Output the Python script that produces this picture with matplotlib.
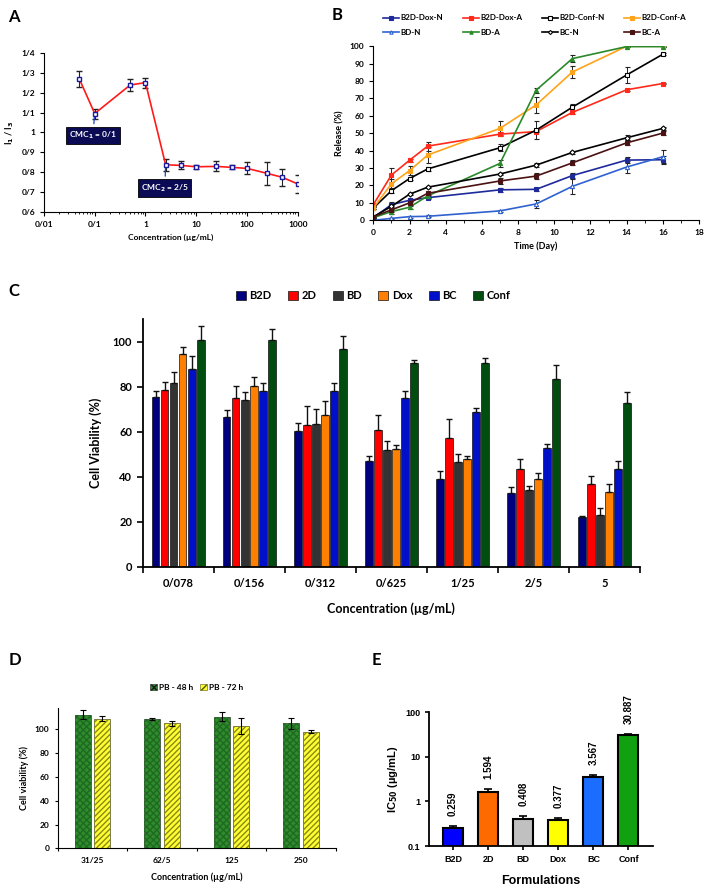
import numpy as np
import matplotlib
matplotlib.use('Agg')
import matplotlib.pyplot as plt
from matplotlib.lines import Line2D
from matplotlib.ticker import FixedLocator, NullFormatter, LogLocator

plt.rcParams['font.family'] = ['Lato', 'DejaVu Sans']
plt.rcParams['font.weight'] = 'bold'

# ---- panel A data
conc_a = [0.05, 0.1, 0.5, 1, 2.5, 5, 10, 25, 50, 100, 250, 500, 1000]
ratio_a = [1.267, 1.095, 1.238, 1.25, 0.838, 0.835, 0.828, 0.83, 0.825, 0.82, 0.795, 0.775, 0.742]
err_a = [0.04, 0.025, 0.03, 0.025, 0.03, 0.02, 0.01, 0.025, 0.01, 0.03, 0.057, 0.043, 0.045]
yticks_a = [0.6, 0.7, 0.8, 0.9, 1.0, 1.1, 1.2, 1.3, 1.4]
ylabels_a = ['0/6', '0/7', '0/8', '0/9', '1', '1/1', '1/2', '1/3', '1/4']
xticks_a = [0.01, 0.1, 1, 10, 100, 1000]
xlabels_a = ['0/01', '0/1', '1', '10', '100', '1000']

# ---- panel B data
days = [0, 1, 2, 3, 7, 9, 11, 14, 16]
rel_names = ['B2D-Dox-N', 'B2D-Dox-A', 'B2D-Conf-N', 'B2D-Conf-A', 'BD-N', 'BD-A', 'BC-N', 'BC-A']
rel_vals = [
    [1.5, 9, 11.5, 13, 17.5, 17.8, 25.7, 34.6, 34.8],
    [9, 26, 34.5, 42.6, 49.5, 51, 62, 75, 78.6],
    [7, 17, 24, 29.5, 41.7, 51.8, 65, 83.5, 95.4],
    [7, 21, 28.5, 37.5, 52.8, 66.3, 85.2, 100, 100],
    [0, 1.1, 2.1, 2.3, 5.4, 9.4, 19.5, 30.6, 36.5],
    [1.5, 5, 7.5, 14, 32.7, 74.8, 92.9, 99.8, 99.8],
    [2, 8, 15, 19, 26.6, 31.7, 39, 47.4, 52.8],
    [2, 6, 10, 15.5, 22.6, 25.4, 33, 44.5, 50.1],
]
rel_errs = [
    [0, 1.5, 1, 1, 1, 1, 1.5, 1.5, 2],
    [0.5, 4, 1, 2.5, 1, 0.5, 1, 0.5, 0.5],
    [0.5, 1.5, 1, 1, 2, 5, 2, 4.5, 0.5],
    [0.5, 3, 2.5, 4.5, 4, 4.5, 3.5, 0.5, 0.5],
    [0, 0.5, 0.5, 0.5, 0.5, 2.5, 4.5, 3.5, 4],
    [0.5, 1.5, 1, 1, 2, 1.5, 2, 0.5, 0.5],
    [0.5, 1, 0.5, 0.5, 0.5, 1, 1, 1.5, 1],
    [0.5, 1, 1, 1, 1.5, 1.5, 1.5, 1.5, 1],
]
rel_colors = ['#1f2a9a', '#ff2a1a', '#000000', '#ffa31a', '#2f62d0', '#2a8a2a', '#000000', '#4a1212']
rel_markers = ['s', 's', 's', 's', '^', '^', 'D', 's']
rel_open = [False, False, True, False, True, False, True, False]

# ---- panel C data
conc_c = ['0/078', '0/156', '0/312', '0/625', '1/25', '2/5', '5']
groups_c = ['B2D', '2D', 'BD', 'Dox', 'BC', 'Conf']
viab_c = {
    'B2D': [75.3, 66.4, 60.5, 46.8, 39.0, 32.9, 22.0],
    '2D': [78.5, 74.8, 63.0, 61.0, 57.2, 43.5, 36.6],
    'BD': [81.5, 74.2, 63.3, 52.1, 46.5, 34.1, 22.8],
    'Dox': [94.8, 80.4, 67.6, 52.3, 48.0, 38.8, 33.2],
    'BC': [87.7, 78.2, 78.2, 75.1, 68.7, 52.6, 43.3],
    'Conf': [100.9, 100.8, 97.0, 90.5, 90.5, 83.6, 72.7],
}
err_c = {
    'B2D': [2.8, 3.2, 3.2, 2.4, 3.4, 2.7, 0.7],
    '2D': [3.5, 5.6, 8.3, 6.4, 8.7, 4.6, 3.7],
    'BD': [4.9, 3.6, 7.0, 3.9, 3.5, 1.9, 3.1],
    'Dox': [2.7, 3.9, 6.0, 1.6, 1.4, 3.0, 3.5],
    'BC': [5.8, 3.3, 3.4, 3.1, 2.0, 2.0, 3.8],
    'Conf': [6.1, 5.1, 5.6, 1.5, 2.4, 6.2, 4.8],
}
colors_c = ['#00007f', '#ff0000', '#333333', '#ff8000', '#0010c8', '#004d0f']

# ---- panel D data
conc_d = ['31/25', '62/5', '125', '250']
pb48 = [112.3, 108.7, 110.6, 105.0]
pb48_err = [3.5, 1.0, 4.0, 4.5]
pb72 = [108.7, 104.8, 102.5, 98.0]
pb72_err = [2.0, 2.0, 6.5, 1.5]

# ---- panel E data
forms = ['B2D', '2D', 'BD', 'Dox', 'BC', 'Conf']
ic50 = [0.259, 1.594, 0.408, 0.377, 3.567, 30.887]
ic50_err = [0.02, 0.3, 0.07, 0.05, 0.35, 2.5]
colors_e = ['#0000ff', '#ff6a00', '#c0c0c0', '#ffff00', '#1a6dff', '#10a010']

fig = plt.figure(figsize=(7.08, 8.93), dpi=100)

# ================= A
ax = fig.add_axes([0.0621, 0.7623, 0.3584, 0.1787])
ax.errorbar(conc_a, ratio_a, yerr=err_a, color='#ff1a1a', lw=1.2, ecolor='#222222',
            elinewidth=0.8, capsize=2, capthick=0.8, marker='s', ms=3.5, mfc='white',
            mec='#1a1aa0', mew=1, zorder=3)
ax.set_xscale('log')
ax.set_xlim(0.01, 1000)
ax.set_ylim(0.6, 1.4)
ax.set_xticks(xticks_a)
ax.set_xticklabels(xlabels_a)
ax.xaxis.set_minor_locator(LogLocator(base=10, subs=np.arange(2, 10)))
ax.xaxis.set_minor_formatter(NullFormatter())
ax.set_yticks(yticks_a)
ax.set_yticklabels(ylabels_a)
ax.tick_params(labelsize=6, length=3, width=0.8)
ax.tick_params(which='minor', length=1.5, width=0.6)
for s in ['top', 'right']:
    ax.spines[s].set_visible(False)
ax.set_xlabel('Concentration (µg/mL)', fontsize=6, fontweight='bold')
ax.set_ylabel('I$_\\mathbf{1}$ / I$_\\mathbf{3}$', fontsize=6.5, fontweight='bold')
box = dict(boxstyle='square,pad=0.35', fc='#0b0b55', ec='#000000', lw=0.6)
ax.annotate('CMC$_1$ = 0/1', xy=(0.1, 1.095), xytext=(0.092, 0.985), fontsize=6,
            color='white', ha='center', va='center', bbox=box,
            arrowprops=dict(arrowstyle='-', color='#2040c0', lw=0.9))
ax.annotate('CMC$_2$ = 2/5', xy=(2.5, 0.838), xytext=(2.4, 0.722), fontsize=6,
            color='white', ha='center', va='center', bbox=box,
            arrowprops=dict(arrowstyle='-', color='#2040c0', lw=0.9))
fig.text(0.012, 0.975, 'A', fontsize=12, fontweight='bold')

# ================= B
ax = fig.add_axes([0.5273, 0.7533, 0.46, 0.1949])
handles = []
for name, vals, errs, c, m, op in zip(rel_names, rel_vals, rel_errs, rel_colors, rel_markers, rel_open):
    ms = 3 if m != 'D' else 2.6
    ax.errorbar(days, vals, yerr=errs, color=c, lw=1.2, marker=m, ms=ms,
                mfc='white' if op else c, mec=c, mew=0.8, ecolor='#222222',
                elinewidth=0.7, capsize=1.8, capthick=0.7)
    handles.append(Line2D([], [], color=c, lw=1.2, marker=m, ms=ms * 0.8,
                          mfc='white' if op else c, mec=c, mew=0.8, label=name))
ax.set_xlim(0, 18)
ax.set_ylim(0, 100)
ax.set_xticks(np.arange(0, 19, 2))
ax.set_yticks(np.arange(0, 101, 10))
ax.xaxis.set_minor_locator(FixedLocator(np.arange(1, 18, 2)))
ax.tick_params(labelsize=6, length=3, width=0.8)
ax.tick_params(which='minor', length=2, width=0.6)
for s in ['top', 'right']:
    ax.spines[s].set_visible(False)
ax.set_xlabel('Time (Day)', fontsize=6.5, fontweight='bold')
ax.set_ylabel('Release (%)', fontsize=6.5, fontweight='bold')
order = [0, 4, 1, 5, 2, 6, 3, 7]
fig.legend(handles=[handles[i] for i in order], loc='center', bbox_to_anchor=(0.755, 0.972),
           ncol=4, fontsize=5.8, frameon=False, handlelength=2.0, columnspacing=2.4,
           handletextpad=0.2, labelspacing=0.9)
fig.text(0.468, 0.978, 'B', fontsize=12, fontweight='bold')

# ================= C
ax = fig.add_axes([0.2016, 0.3654, 0.7024, 0.277])
x = np.arange(len(conc_c))
slot = 0.127
bars_c = []
for k, (g, c) in enumerate(zip(groups_c, colors_c)):
    vals = viab_c[g]
    errs = err_c[g]
    b = ax.bar(x + (k - 2.5) * slot, vals, width=0.105, color=c, edgecolor='#111111', lw=0.5,
               yerr=[np.zeros(len(errs)), errs], capsize=2.2,
               error_kw=dict(elinewidth=1, capthick=1, ecolor='#111111'), label=g)
    bars_c.append(b)
ax.set_xlim(-0.5, 6.5)
ax.set_ylim(0, 110)
ax.set_yticks(np.arange(0, 101, 20))
ax.set_xticks(x)
ax.set_xticklabels(conc_c)
ax.xaxis.set_minor_locator(FixedLocator(np.arange(-0.5, 7, 1)))
ax.tick_params(axis='x', which='major', length=0, labelsize=8, pad=8)
ax.tick_params(axis='x', which='minor', length=4, width=1.2)
ax.tick_params(axis='y', labelsize=8, length=4, width=1.2)
for s in ['top', 'right']:
    ax.spines[s].set_visible(False)
for s in ['left', 'bottom']:
    ax.spines[s].set_linewidth(1.3)
ax.set_xlabel('Concentration (µg/mL)', fontsize=9, fontweight='bold', labelpad=10)
ax.set_ylabel('Cell Viability (%)', fontsize=9, fontweight='bold', labelpad=8)
fig.legend(handles=bars_c, loc='center', bbox_to_anchor=(0.527, 0.669), ncol=6,
           fontsize=8, frameon=False, handlelength=0.9, handleheight=0.9,
           columnspacing=1.5, handletextpad=0.3)
fig.text(0.012, 0.668, 'C', fontsize=12, fontweight='bold')

# ================= D
ax = fig.add_axes([0.0815, 0.05, 0.3927, 0.1568])
xd = np.arange(len(conc_d))
ax.bar(xd - 0.143, pb48, width=0.23, color='#2e8b2e', edgecolor='#1a1a1a', lw=0.4,
       yerr=pb48_err, capsize=2, error_kw=dict(elinewidth=0.8, capthick=0.8))
ax.bar(xd - 0.143, pb48, width=0.23, fill=False, edgecolor='#1f6a1f', hatch='xxxxx', lw=0)
ax.bar(xd + 0.143, pb72, width=0.23, color='#ffff33', edgecolor='#1a1a1a', lw=0.4,
       yerr=pb72_err, capsize=2, error_kw=dict(elinewidth=0.8, capthick=0.8))
ax.bar(xd + 0.143, pb72, width=0.23, fill=False, edgecolor='#8a8a10', hatch='//////', lw=0)
h48 = plt.Rectangle((0, 0), 1, 1, facecolor='#2e8b2e', edgecolor='#1a1a1a', hatch='xxxx', lw=0.4)
h72 = plt.Rectangle((0, 0), 1, 1, facecolor='#ffff33', edgecolor='#555500', hatch='////', lw=0.4)
ax.set_xlim(-0.5, 3.5)
ax.set_ylim(0, 117.5)
ax.set_yticks(np.arange(0, 101, 20))
ax.set_xticks(xd)
ax.set_xticklabels(conc_d)
ax.tick_params(axis='x', length=0, labelsize=6, pad=6)
ax.tick_params(axis='y', labelsize=6, length=2.5, width=0.8)
ax.xaxis.set_minor_locator(FixedLocator([-0.5, 0.5, 1.5, 2.5, 3.5]))
ax.tick_params(axis='x', which='minor', length=2.5, width=0.8)
for s in ['top', 'right']:
    ax.spines[s].set_visible(False)
ax.set_xlabel('Concentration (µg/mL)', fontsize=6.5, fontweight='bold', labelpad=6)
ax.set_ylabel('Cell viability (%)', fontsize=6.5, fontweight='bold')
ax.legend([h48, h72], ['PB - 48 h', 'PB - 72 h'], loc='center', bbox_to_anchor=(0.5, 1.15),
          ncol=2, fontsize=6, frameon=False, handlelength=0.8, handleheight=0.8,
          columnspacing=0.8, handletextpad=0.3)
fig.text(0.012, 0.255, 'D', fontsize=12, fontweight='bold')

# ================= E
ef = ['Liberation Sans', 'DejaVu Sans']
ax = fig.add_axes([0.6064, 0.0526, 0.3155, 0.1498])
xe = np.arange(len(forms))
ax.bar(xe, ic50, width=0.57, color=colors_e, edgecolor='black', lw=1.5,
       yerr=[np.zeros(len(ic50_err)), ic50_err], capsize=3,
       error_kw=dict(elinewidth=1.2, capthick=1.2, ecolor='black'))
ax.set_yscale('log')
ax.set_ylim(0.1, 100)
ax.set_xlim(-0.675, 5.69)
ax.set_yticks([0.1, 1, 10, 100])
ax.set_yticklabels(['0.1', '1', '10', '100'])
ax.yaxis.set_minor_formatter(NullFormatter())
ax.tick_params(axis='y', which='minor', length=0)
ax.set_xticks(xe)
ax.set_xticklabels(forms)
for lab in ax.get_xticklabels() + ax.get_yticklabels():
    lab.set_family(ef)
ax.tick_params(axis='x', length=3, width=1.2, labelsize=6.5)
ax.tick_params(axis='y', length=3, width=1.2, labelsize=6.5)
for s in ['top', 'right']:
    ax.spines[s].set_visible(False)
for s in ['left', 'bottom']:
    ax.spines[s].set_linewidth(1.3)
for xi, v, e in zip(xe, ic50, ic50_err):
    ax.annotate(f'{v:.3f}', xy=(xi, v + e), xytext=(0, 7), textcoords='offset points',
                rotation=90, ha='center', va='bottom', fontsize=7, fontweight='bold',
                family=ef, annotation_clip=False)
ax.set_xlabel('Formulations', fontsize=9, fontweight='bold', labelpad=8, family=ef)
ax.set_ylabel('IC$_{50}$ (µg/mL)', fontsize=8, fontweight='bold', family=ef)
fig.text(0.525, 0.255, 'E', fontsize=12, fontweight='bold')

fig.savefig('out.png', dpi=100)
